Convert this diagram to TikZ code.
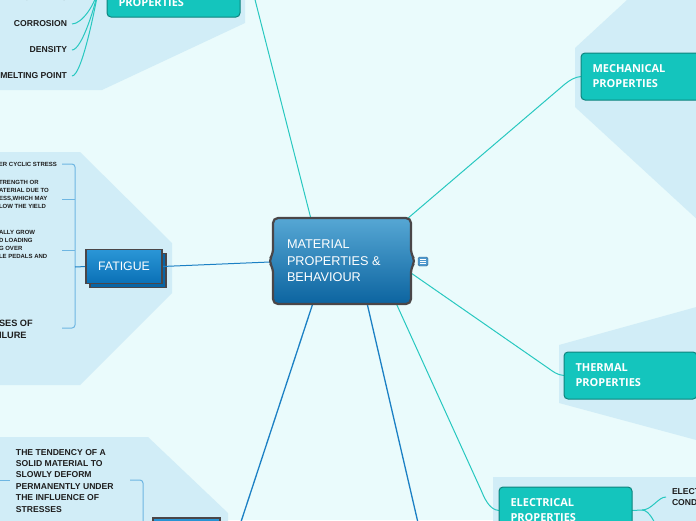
\documentclass[tikz,border=0pt]{standalone}
\usepackage{fontspec}
\setmainfont{Liberation Sans}
\newfontfamily\topicfont{Open Sans}
\usetikzlibrary{calc}

\definecolor{canvas}{RGB}{234,251,252}
\definecolor{panelblue}{RGB}{209,237,247}
\definecolor{topicteal}{RGB}{20,197,189}
\definecolor{topicedge}{RGB}{14,132,126}
\definecolor{tealline}{RGB}{40,200,192}
\definecolor{bluebranch}{RGB}{27,128,196}
\definecolor{twigblue}{RGB}{110,182,226}
\definecolor{coretop}{RGB}{86,167,212}
\definecolor{coremid}{RGB}{38,128,186}
\definecolor{corebot}{RGB}{12,100,160}
\definecolor{fatiguetop}{RGB}{42,150,214}
\definecolor{fatiguebot}{RGB}{10,112,182}
\definecolor{edgegray}{RGB}{74,70,72}
\definecolor{inkdark}{RGB}{30,30,30}
\definecolor{memoblue}{RGB}{78,152,205}

\pgfdeclarelayer{back}
\pgfdeclarelayer{links}
\pgfsetlayers{back,links,main}

\begin{document}
\begin{tikzpicture}[
    x = 1pt, y = -1pt,
    every node/.style = {inner sep=0pt, outer sep=0pt},
    panel/.style = {fill=panelblue},
    corebox/.style = {
        draw=edgegray, line width=2.2pt, rounded corners=5pt,
        top color=coretop, middle color=coremid, bottom color=corebot
    },
    coretext/.style = {
        text=white, align=left, font=\fontsize{12.7}{16.5}\selectfont
    },
    topic/.style = {
        rectangle, rounded corners=4pt,
        fill=topicteal, draw=topicedge, line width=1pt,
        text=white, align=left, text width=110pt, inner xsep=11.5pt,
        minimum height=47pt, anchor=north west,
        font=\topicfont\bfseries\fontsize{11}{15}\selectfont
    },
    subtopic/.style = {
        rectangle, draw=edgegray, line width=1.5pt,
        top color=fatiguetop, bottom color=fatiguebot,
        minimum width=76pt, minimum height=34pt,
        text=white, font=\fontsize{12.3}{14}\selectfont
    },
    subshadow/.style = {draw=edgegray, line width=1.5pt, fill=fatiguebot!90!black},
    leaf/.style = {text=inkdark, align=left, font=\bfseries\fontsize{8.6}{11.4}\selectfont},
    tinyleaf/.style = {text=inkdark, align=left, font=\bfseries\fontsize{6}{8}\selectfont},
    bigleaf/.style = {text=inkdark, align=left, font=\bfseries\fontsize{9.2}{12}\selectfont},
    memo/.style = {rectangle, rounded corners=1.5pt, fill=memoblue, draw=memoblue!70!black,
        line width=0.4pt, minimum width=10pt, minimum height=9pt},
    memoline/.style = {draw=white, line width=0.6pt},
    tealarm/.style = {draw=tealline, line width=1pt},
    bluearm/.style = {draw=bluebranch, line width=1.3pt},
    twig/.style = {draw=twigblue, line width=1pt, rounded corners=3pt}
]
\useasboundingbox (0,0) rectangle (696,520);

%% Background panels
\begin{pgfonlayer}{back}
\fill[canvas] (0,0) rectangle (696,520);
\fill[panel] (0,0) -- (245,0) -- (245,23) -- (102,90) -- (0,90) -- cycle;
\fill[panel] (0,152) -- (80,152) -- (172,243) -- (172,293) -- (80,385) -- (0,385) -- cycle;
\fill[panel] (0,437) -- (148,437) -- (228,513) -- (228,530) -- (0,530) -- cycle;
\fill[panel] (627,0) -- (700,0) -- (700,222) -- (575,107) -- (575,48) -- cycle;
\fill[panel] (700,306) -- (559,345) -- (559,403) -- (700,441) -- cycle;
\fill[panel] (493,477) -- (700,477) -- (700,530) -- (493,530) -- cycle;
\end{pgfonlayer}

%% Central topic
\draw[corebox] (273,218) -- (411,218) -- (411,254) -- (415.5,261) -- (411,268)
    -- (411,304) -- (273,304) -- (273,268) -- (268.5,261) -- (273,254) -- cycle;
\node[coretext, anchor=north west] (core) at (287,240.2) {MATERIAL\\PROPERTIES \&\\BEHAVIOUR};
\node[memo] (memo) at (423,261.5) {};
\foreach \dy in {-2,0,2}
    \draw[memoline] ($(memo.center)+(-3,\dy)$) -- +(6,0);

\coordinate (coreN)  at (311,219);
\coordinate (coreNE) at (407,219);
\coordinate (coreE)  at (411,273);
\coordinate (coreSE) at (396,303);
\coordinate (coreS1) at (313,303);
\coordinate (coreS2) at (367,303);
\coordinate (coreW)  at (270,262);

%% Main topics
\node[topic, anchor=base west, text height=35pt, text depth=8pt, inner ysep=3pt]
    (phys) at (107,6) {PROPERTIES};
\node[topic] (mech)  at (581,53)  {MECHANICAL\\PROPERTIES};
\node[topic] (therm) at (564,352) {THERMAL\\PROPERTIES};
\node[topic] (elec)  at (499,487) {ELECTRICAL\\PROPERTIES};
\node[subtopic] (fatigue) at (124,266.5) {FATIGUE};
\node[subtopic, anchor=north west, minimum width=67pt] (creep) at (153,518) {};

%% Leaves
\node[leaf, anchor=east, inner xsep=5pt] (optic) at (72,-2) {OPTICAL PROPERTIES};
\node[leaf, anchor=east, inner xsep=5pt] (corro) at (72,24) {CORROSION};
\node[leaf, anchor=east, inner xsep=5pt] (dens)  at (72,50) {DENSITY};
\node[leaf, anchor=east, inner xsep=5pt] (melt)  at (72,76) {MELTING POINT};

\node[tinyleaf, anchor=east, inner xsep=5pt] (cyclic) at (62,164) {UNDER CYCLIC STRESS};
\node[tinyleaf, anchor=north west] (weaken) at (-1,180.8)
    {TRENGTH OR\\ATERIAL DUE TO\\ESS,WHICH MAY\\LOW THE YIELD};
\node[tinyleaf, anchor=north west] (crack) at (-1,230.8)
    {ALLY GROW\\D LOADING\\G OVER\\LE PEDALS AND};
\node[bigleaf, anchor=north west] (stages) at (-1,319.8) {SES OF\\ILURE};

\node[leaf, anchor=north west] (creepdef) at (16,449)
    {THE TENDENCY OF A\\SOLID MATERIAL TO\\SLOWLY DEFORM\\PERMANENTLY UNDER\\THE INFLUENCE OF\\STRESSES};
\node[leaf, anchor=west, inner xsep=6pt] (elcond) at (666,497) {ELECTRICAL\\CONDUCTIVITY};

%% Connector points
\coordinate (physjoint) at (99,-14);
\coordinate (fjoint) at (75,267);
\coordinate (stubB) at (62,199);
\coordinate (stubC) at (62,250);
\coordinate (stubD) at (62,328);
\coordinate (cstub) at (130,480);
\coordinate (cjoint) at (143,535);
\coordinate (lstub) at (0,480);
\coordinate (lstubend) at (10,480);
\coordinate (ejoint) at (642,510);
\coordinate (elow) at (660,535);
\coordinate (topout) at (250,-20);
\coordinate (bendM) at (565,84);
\coordinate (bendT) at (548,368);
\coordinate (bendE) at (481,490);
\coordinate (downL) at (235,540);
\coordinate (downR) at (422,540);

\begin{pgfonlayer}{links}
%% Shadow copies behind the dark topics
\draw[subshadow] ($(fatigue.south west)+(4,4)$) rectangle ($(fatigue.north east)+(4,4)$);
\draw[subshadow] ($(creep.south west)+(4,4)$) rectangle ($(creep.north east)+(4,4)$);

%% Arms from the centre
\draw[tealarm] (coreN) -- (topout);
\draw[tealarm] (coreNE) -- (bendM) .. controls (570,80) and (575,77) .. (mech.west);
\draw[tealarm] (coreE) -- (bendT) .. controls (553,371.5) and (557,375) .. (therm.west);
\draw[tealarm] (coreSE) -- (bendE) .. controls (484,497) and (489,510) .. (elec.west);
\draw[bluearm] (coreS1) -- (downL);
\draw[bluearm] (coreS2) -- (downR);
\draw[bluearm, line width=1pt] (fatigue.east) -- (coreW);

%% Physical leaves
\foreach \leafname in {optic, corro, dens, melt}
    \draw[tealarm] (\leafname.east) .. controls +(10,0) and +(-3,18) .. (physjoint);

%% Fatigue bracket
\draw[twig] (cyclic.east) -| (fjoint) |- (stubD);
\draw[twig] (stubB) -- (stubB -| fjoint);
\draw[twig] (stubC) -- (stubC -| fjoint);
\draw[bluearm, line width=1pt] (fjoint) -- (fatigue.west);

%% Creep bracket
\draw[twig] (cstub) -| (cjoint);
\draw[twig] (lstub) -- (lstubend);

%% Electrical leaves
\draw[tealarm] (elec.east) -- (ejoint);
\draw[tealarm] (ejoint) .. controls +(10,0) and +(-8,0) .. (elcond.west);
\draw[tealarm] (ejoint) .. controls +(8,0) and +(-4,-10) .. (elow);
\end{pgfonlayer}

\end{tikzpicture}
\end{document}
